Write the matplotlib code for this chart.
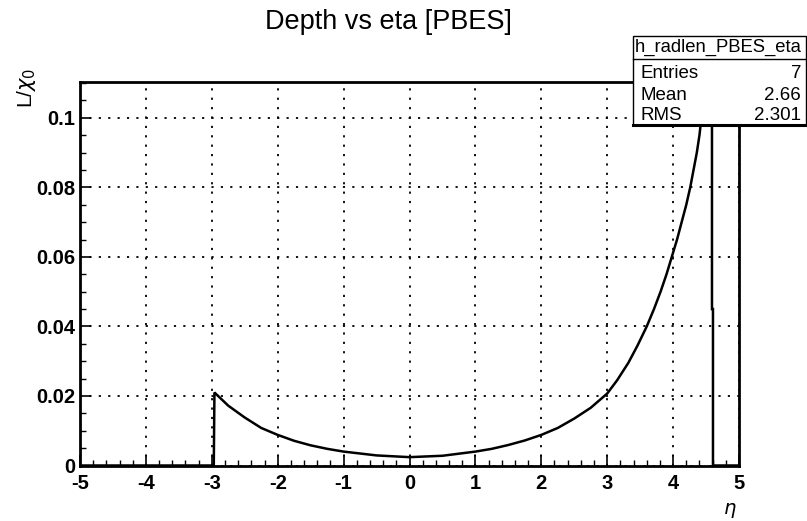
import matplotlib
matplotlib.use("Agg")
import matplotlib.pyplot as plt
from matplotlib.ticker import MultipleLocator, FixedLocator
from matplotlib.patches import Rectangle

# ---- data ----
eta = [-5.0, -2.97, -2.97, -2.96, -2.75, -2.5, -2.25, -2.0, -1.75, -1.5, -1.25, -1.0,
       -0.5, 0.0, 0.5, 1.0, 1.25, 1.5, 1.75, 2.0, 2.25, 2.5, 2.75, 3.0, 3.15,
       3.32, 3.46, 3.6, 3.71, 3.81, 3.9, 3.98, 4.06, 4.13, 4.2, 4.26, 4.31, 4.36, 4.4, 4.43,
       4.47, 4.5, 4.59, 4.59, 4.605, 4.605, 5.0]
depth = [0.0, 0.0, 0.0, 0.021, 0.0172, 0.0138, 0.0108, 0.0088, 0.0071, 0.0058, 0.0048, 0.0040,
         0.0029, 0.0024, 0.0028, 0.0040, 0.0048, 0.0059, 0.0072, 0.0088, 0.0108, 0.0135, 0.0166,
         0.0207, 0.0245, 0.0295, 0.0345, 0.040, 0.045, 0.050, 0.055, 0.060, 0.065, 0.070, 0.075,
         0.080, 0.085, 0.090, 0.095, 0.100, 0.106, 0.115, 0.115, 0.045, 0.045, 0.0, 0.0]

title = "Depth vs eta [PBES]"
stats_name = "h_radlen_PBES_eta"
stats_labels = ["Entries", "Mean", "RMS"]
stats_values = ["7", "2.66", "2.301"]
x_ticks = [-5, -4, -3, -2, -1, 0, 1, 2, 3, 4, 5]
x_ticklabels = ["-5", "-4", "-3", "-2", "-1", "0", "1", "2", "3", "4", "5"]
y_ticks = [0, 0.02, 0.04, 0.06, 0.08, 0.1]
y_ticklabels = ["0", "0.02", "0.04", "0.06", "0.08", "0.1"]

W, H = 807, 521
fig = plt.figure(figsize=(W / 100, H / 100), dpi=100)
fig.patch.set_facecolor("white")
ax = fig.add_axes([80 / W, 1 - 465.5 / H, (739 - 80) / W, (465.5 - 82) / H])

ax.plot(eta, depth, color="black", lw=1.8, solid_joinstyle="miter", zorder=3)
ax.set_xlim(-5, 5)
ax.set_ylim(0, 0.1103)

ax.xaxis.set_major_locator(FixedLocator(x_ticks))
ax.set_xticklabels(x_ticklabels)
ax.xaxis.set_minor_locator(MultipleLocator(0.2))
ax.yaxis.set_major_locator(FixedLocator(y_ticks))
ax.set_yticklabels(y_ticklabels)
ax.yaxis.set_minor_locator(MultipleLocator(0.005))

ax.tick_params(which="both", direction="in", top=False, right=False, color="black")
ax.tick_params(which="major", length=8, width=1.2)
ax.tick_params(which="minor", length=4, width=1.0)
ax.tick_params(axis="x", pad=6)
ax.tick_params(axis="y", pad=3.5)
for lbl in ax.get_xticklabels() + ax.get_yticklabels():
    lbl.set_fontfamily("Liberation Sans")
    lbl.set_fontweight("bold")
    lbl.set_fontsize(14.5)

ax.grid(True, which="major", color="black", linestyle=(0, (1.2, 4)), lw=1.3)
for s in ax.spines.values():
    s.set_linewidth(2.0)

fig.text(388 / W, 1 - 22 / H, title, ha="center", va="center",
         fontsize=19.5, family="Liberation Sans")

fig.text(27 / W, 1 - 68 / H, r"L/$\chi_{0}$", rotation=90,
         ha="center", va="top", fontsize=15, family="Liberation Sans")
fig.text(730 / W, 1 - 510 / H, r"$\eta$", ha="center", va="center", fontsize=14)

# stats box
bx0, by0, bx1, by1 = 633 / W, 1 - 125 / H, 806 / W, 1 - 36 / H
box = Rectangle((bx0, by0), bx1 - bx0, by1 - by0, transform=fig.transFigure,
                facecolor="white", edgecolor="black", lw=1.0, zorder=10)
fig.add_artist(box)
fig.add_artist(plt.Line2D([bx0, 807 / W], [by0, by0], transform=fig.transFigure,
                          color="black", lw=2.2, zorder=11))
sep = 1 - 59 / H
fig.add_artist(plt.Line2D([bx0, bx1], [sep, sep], transform=fig.transFigure,
                          color="black", lw=1.0, zorder=11))
t = fig.text(802 / W, 1 - 47 / H, stats_name, ha="right", va="center",
             fontsize=13.3, family="Liberation Sans", zorder=12)
t.set_clip_path(Rectangle((bx0 + 1 / W, by0), bx1 - bx0, by1 - by0,
                          transform=fig.transFigure))
rows_y = [74, 95, 116]
for lab, val, yy in zip(stats_labels, stats_values, rows_y):
    fig.text(640 / W, 1 - yy / H, lab, ha="left", va="center", fontsize=13.5,
             family="Liberation Sans", zorder=12)
    fig.text(801 / W, 1 - yy / H, val, ha="right", va="center", fontsize=13.5,
             family="Liberation Sans", zorder=12)

fig.savefig("out.png", dpi=100)
